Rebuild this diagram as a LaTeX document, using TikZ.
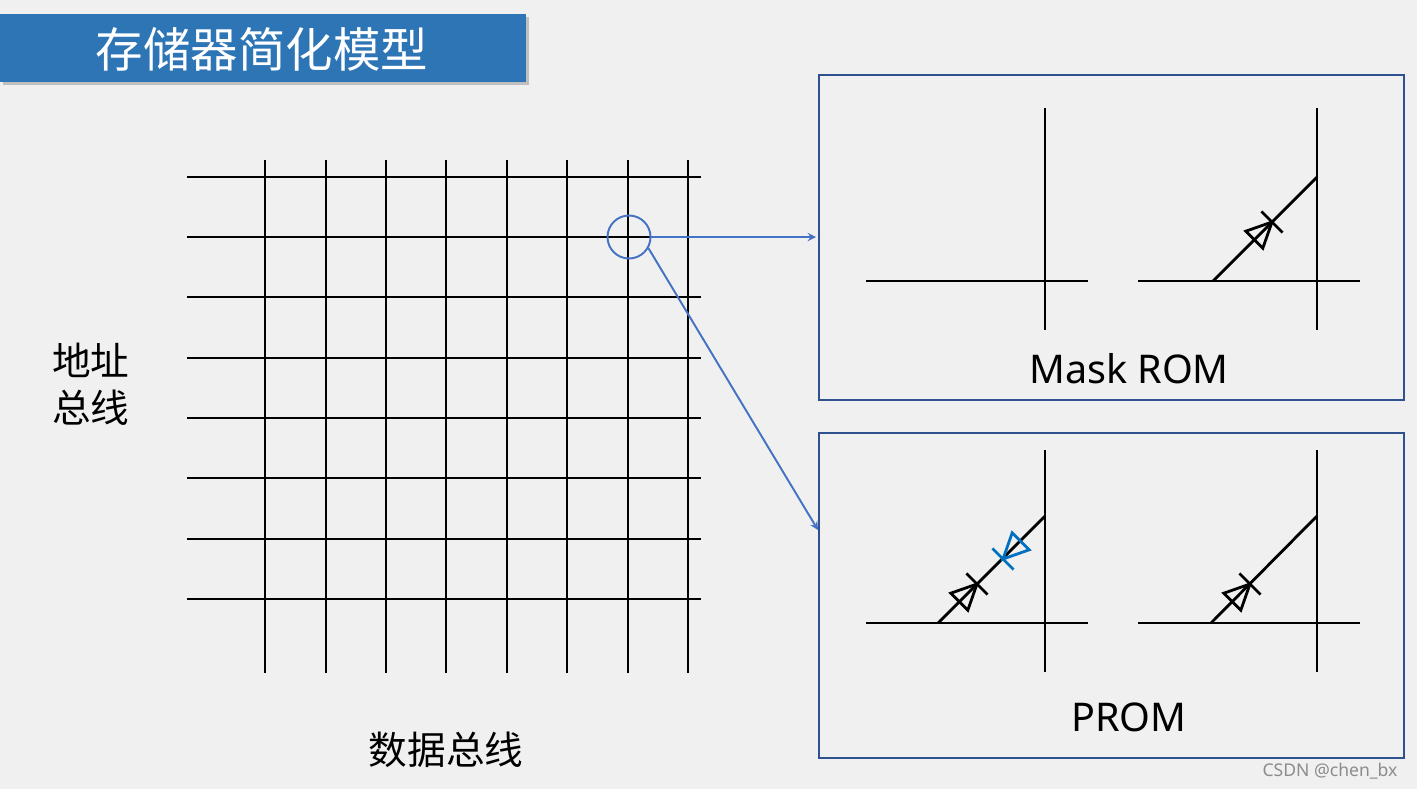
\documentclass[tikz,border=0pt]{standalone}
\usepackage{fontspec}
\setmainfont{Noto Sans}
\newfontfamily\cjk{Noto Sans CJK SC}
\newcommand\mydiode[3]{\begin{scope}[shift={(#1,#2)},line width=1.6pt,#3]
  \draw (0,0)--(-9.2,26.2)--(-26.2,9.2)--cycle; \draw (-10.6,-10.6)--(10.6,10.6);\end{scope}}
\newcommand\myrdiode[3]{\begin{scope}[shift={(#1,#2)},line width=1.6pt,#3]
  \draw (0,0)--(9.2,-26.2)--(26.2,-9.2)--cycle; \draw (-10.6,-10.6)--(10.6,10.6);\end{scope}}
\begin{document}
\begin{tikzpicture}[x=0.02cm,y=-0.02cm,
  gridline/.style={line width=1.6pt,black},
  boxframe/.style={line width=1.4pt, draw={rgb,255:red,47;green,82;blue,143}},
  link/.style={draw={rgb,255:red,68;green,114;blue,196},line width=1.1pt,-stealth}]
\definecolor{bg}{RGB}{240,240,240}
\definecolor{titleblue}{RGB}{46,117,182}
\definecolor{dblue}{RGB}{0,112,192}
\useasboundingbox (0,0) rectangle (1417,789);
\fill[bg] (0,0) rectangle (1417,789);
% title
\fill[black!25] (3,17) rectangle (529,85);
\node[fill=titleblue,minimum width=526*0.02cm,minimum height=68*0.02cm,anchor=north west,inner sep=0] (title) at (0,14) {};
\node[text=white,font=\cjk\fontsize{27}{30}\selectfont] (tt) at (262,49) {存储器简化模型};
% grid
\foreach \y [count=\i] in {177,237,297,358,418,478,539,599} \draw[gridline] (187,\y) coordinate (h\i) -- (701,\y);
\foreach \x [count=\i] in {265,326,386,446,507,567,628,688} \draw[gridline] (\x,160) coordinate (v\i) -- (\x,673);
\node[font=\cjk\fontsize{22}{27}\selectfont,align=center] (addr) at (91,384) {地址\\总线};
\node[font=\cjk\fontsize{22}{26}\selectfont] (data) at (446,750) {数据总线};
\node[draw={rgb,255:red,68;green,114;blue,196},line width=1.1pt,circle,minimum size=43*0.02cm,inner sep=0] (cell) at (629,237) {};
% boxes
\node[boxframe,minimum width=585*0.02cm,minimum height=325*0.02cm,anchor=north west,inner sep=0] (mask) at (818,74) {};
\node[boxframe,minimum width=585*0.02cm,minimum height=325*0.02cm,anchor=north west,inner sep=0] (prom) at (818,432) {};
\coordinate (a1) at (816,237);
\coordinate (a2) at (818,530);
\draw[link] (cell.east) -- (a1);
\draw[link] (cell.-30) -- (a2);
% Mask ROM
\draw[gridline] (866,281) -- (1088,281); \draw[gridline] (1045,108) -- (1045,330);
\draw[gridline] (1138,281) -- (1360,281); \draw[gridline] (1317,108) -- (1317,330);
\draw[gridline] (1213,281) -- (1317,177);
\mydiode{1272}{222}{black}
\node[font=\fontsize{22.5}{27}\selectfont] (ml) at (1129,369) {Mask ROM};
% PROM
\draw[gridline] (866,623) -- (1088,623); \draw[gridline] (1045,450) -- (1045,672);
\draw[gridline] (1138,623) -- (1360,623); \draw[gridline] (1317,450) -- (1317,672);
\draw[gridline] (938,623) -- (1045,516);
\draw[gridline] (1211,623) -- (1317,516);
\mydiode{977}{584}{black}
\myrdiode{1003}{559}{dblue}
\mydiode{1250}{584}{black}
\node[font=\fontsize{22.5}{27}\selectfont] (pl) at (1129,717) {PROM};
\node[font=\fontsize{10}{12}\selectfont,text=black!45] (wm) at (1330,771) {CSDN @chen\_bx};
\end{tikzpicture}
\end{document}
